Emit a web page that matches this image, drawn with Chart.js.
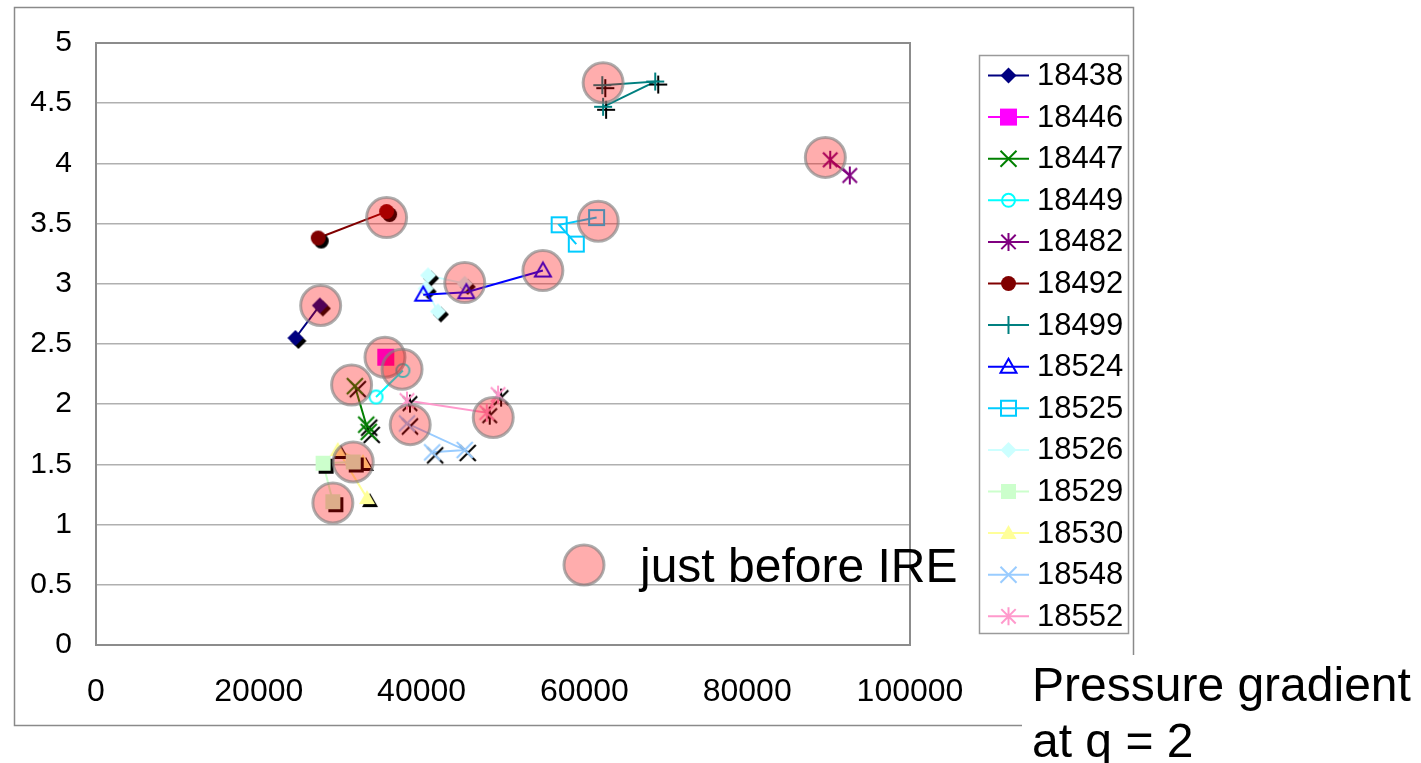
<!DOCTYPE html>
<html>
<head>
<meta charset="utf-8">
<script src="https://cdn.jsdelivr.net/npm/chart.js@4/dist/chart.umd.min.js"></script>
<style>
  html, body { margin: 0; padding: 0; background: #fff; overflow: hidden; }
  #wrap { position: relative; width: 1421px; height: 763px; }
</style>
</head>
<body>
<div id="wrap"><canvas id="c" width="1421" height="763"></canvas></div>
<script>
// Shot numbers (legend order)
const shots = ['18438', '18446', '18447', '18449', '18482', '18492', '18499',
               '18524', '18525', '18526', '18529', '18530', '18548', '18552'];

// [pressure gradient at q = 2, y value] for each shot
const shot18438 = [[24500, 2.55], [27500, 2.82]];
const shot18446 = [[35600, 2.39]];
const shot18447 = [[31800, 2.15], [33200, 1.83], [33500, 1.77]];
const shot18449 = [[37700, 2.28], [34400, 2.06]];
const shot18482 = [[90200, 4.03], [92600, 3.90]];
const shot18492 = [[27300, 3.38], [35700, 3.60]];
const shot18499 = [[62200, 4.65], [68700, 4.68], [62300, 4.47]];
const shot18524 = [[54900, 3.11], [45500, 2.93], [40200, 2.91]];
const shot18525 = [[61500, 3.55], [56900, 3.49], [59000, 3.33]];
const shot18526 = [[45300, 3.00], [40800, 3.07], [40500, 2.96], [42000, 2.77]];
const shot18529 = [[31600, 1.52], [27900, 1.51], [29100, 1.19]];
const shot18530 = [[32800, 1.52], [29700, 1.62], [33300, 1.22]];
const shot18548 = [[38200, 1.84], [45300, 1.62], [41300, 1.60]];
const shot18552 = [[38200, 2.03], [48000, 1.93], [49400, 2.08]];

// Points just before the IRE
const justBeforeIRE = [[27600, 2.82], [35700, 3.55], [35500, 2.39], [37600, 2.29],
                       [31400, 2.16], [38600, 1.83], [48800, 1.89], [31600, 1.52],
                       [29100, 1.18], [45300, 3.01], [54900, 3.11], [61700, 3.52],
                       [62300, 4.67], [89600, 4.05]];

// Axis ticks
const xTicks = [0, 20000, 40000, 60000, 80000, 100000];
const yTicks = [0, 0.5, 1, 1.5, 2, 2.5, 3, 3.5, 4, 4.5, 5];

const shotValues = [shot18438, shot18446, shot18447, shot18449, shot18482, shot18492, shot18499,
                    shot18524, shot18525, shot18526, shot18529, shot18530, shot18548, shot18552];

// Marker look per shot: colour, shape, filled, drop shadow
const looks = [
  { color: '#000080', shape: 'diamond',  filled: true,  shadow: true  },
  { color: '#FF00FF', shape: 'square',   filled: true,  shadow: false, size: 8.5 },
  { color: '#008000', shape: 'x',        filled: false, shadow: true  },
  { color: '#00FFFF', shape: 'circle',   filled: false, shadow: false, size: 6.5 },
  { color: '#800080', shape: 'star',     filled: false, shadow: false },
  { color: '#800000', shape: 'circle',   filled: true,  shadow: true  },
  { color: '#008080', shape: 'plus',     filled: false, shadow: true  },
  { color: '#0000FF', shape: 'triangle', filled: false, shadow: false },
  { color: '#00CCFF', shape: 'square',   filled: false, shadow: false },
  { color: '#CCFFFF', shape: 'diamond',  filled: true,  shadow: true  },
  { color: '#CCFFCC', shape: 'square',   filled: true,  shadow: true  },
  { color: '#FFFF99', shape: 'triangle', filled: true,  shadow: true  },
  { color: '#99CCFF', shape: 'x',        filled: false, shadow: true  },
  { color: '#FF99CC', shape: 'star',     filled: false, shadow: true  }
];

const FONT = "'Liberation Sans', Arial, sans-serif";
const IRE_FILL = 'rgba(255, 0, 0, 0.32)';
const IRE_EDGE = 'rgba(130, 130, 130, 0.65)';

function markerPath(ctx, shape, x, y, s) {
  ctx.beginPath();
  switch (shape) {
    case 'diamond':
      ctx.moveTo(x, y - s); ctx.lineTo(x + s, y); ctx.lineTo(x, y + s); ctx.lineTo(x - s, y);
      ctx.closePath(); break;
    case 'square':
      ctx.rect(x - s, y - s, 2 * s, 2 * s); break;
    case 'triangle':
      ctx.moveTo(x, y - s); ctx.lineTo(x + s, y + s * 0.75); ctx.lineTo(x - s, y + s * 0.75);
      ctx.closePath(); break;
    case 'circle':
      ctx.arc(x, y, s, 0, Math.PI * 2); break;
    case 'x':
      ctx.moveTo(x - s, y - s); ctx.lineTo(x + s, y + s);
      ctx.moveTo(x + s, y - s); ctx.lineTo(x - s, y + s); break;
    case 'plus':
      ctx.moveTo(x - s, y); ctx.lineTo(x + s, y);
      ctx.moveTo(x, y - s); ctx.lineTo(x, y + s); break;
    case 'star':
      ctx.moveTo(x - s * 0.8, y - s * 0.8); ctx.lineTo(x + s * 0.8, y + s * 0.8);
      ctx.moveTo(x + s * 0.8, y - s * 0.8); ctx.lineTo(x - s * 0.8, y + s * 0.8);
      ctx.moveTo(x, y - s); ctx.lineTo(x, y + s); break;
  }
}

function markerSize(look) {
  if (look.size) return look.size;
  switch (look.shape) {
    case 'square': return 7.5;
    case 'circle': return 7.5;
    case 'plus': return 9;
    case 'star': return 9;
    case 'x': return 8;
    default: return 8;
  }
}

function drawMarker(ctx, look, x, y, withShadow) {
  const s = markerSize(look);
  ctx.save();
  if (withShadow) {
    ctx.shadowColor = '#000';
    ctx.shadowOffsetX = 3;
    ctx.shadowOffsetY = 3;
    ctx.shadowBlur = 0;
  }
  ctx.lineWidth = 2;
  ctx.strokeStyle = look.color;
  ctx.fillStyle = look.color;
  markerPath(ctx, look.shape, x, y, s);
  if (look.filled) {
    ctx.fill();
  } else {
    ctx.stroke();
  }
  ctx.restore();
}

// Pre-rendered marker images used as point styles
function markerImage(look) {
  const s = markerSize(look);
  const size = Math.ceil(2 * (s + 7));
  const cv = document.createElement('canvas');
  cv.width = size; cv.height = size;
  const ctx = cv.getContext('2d');
  drawMarker(ctx, look, size / 2, size / 2, look.shadow);
  return cv;
}

const datasets = [];
datasets.push({
  label: 'just before IRE',
  data: justBeforeIRE.map(([x, y]) => ({ x, y })),
  showLine: false,
  pointStyle: 'circle',
  pointRadius: 20,
  pointHoverRadius: 20,
  pointBackgroundColor: IRE_FILL,
  pointBorderColor: IRE_EDGE,
  pointBorderWidth: 3,
  order: -1
});
shots.forEach((name, i) => {
  const look = looks[i];
  datasets.push({
    label: name,
    data: shotValues[i].map(([x, y]) => ({ x, y })),
    showLine: true,
    borderColor: look.color,
    borderWidth: 2,
    backgroundColor: look.color,
    pointStyle: markerImage(look),
    pointRadius: 8,
    order: 0
  });
});

const decor = {
  id: 'decor',
  beforeDraw(chart) {
    const ctx = chart.ctx;
    ctx.save();
    ctx.fillStyle = '#fff';
    ctx.fillRect(0, 0, chart.width, chart.height);
    ctx.strokeStyle = '#8a8a8a';
    ctx.lineWidth = 1.5;
    ctx.strokeRect(14.5, 7.5, 1119, 718);
    ctx.restore();
  },
  beforeDatasetsDraw(chart) {
    const ctx = chart.ctx;
    const a = chart.chartArea;
    ctx.save();
    ctx.strokeStyle = '#8c8c8c';
    ctx.lineWidth = 2;
    ctx.strokeRect(a.left, a.top, a.right - a.left, a.bottom - a.top);
    ctx.restore();
  },
  afterDraw(chart) {
    const ctx = chart.ctx;
    const a = chart.chartArea;
    ctx.save();

    // Series legend
    const lx = 979, ly = 55, lw = 149, lh = 578;
    ctx.fillStyle = '#fff';
    ctx.fillRect(lx, ly, lw, lh);
    ctx.strokeStyle = '#9a9a9a';
    ctx.lineWidth = 1.5;
    ctx.strokeRect(lx + 0.5, ly + 0.5, lw, lh);
    ctx.font = '31px ' + FONT;
    ctx.textBaseline = 'middle';
    shots.forEach((name, i) => {
      const y = 75.5 + i * 41.6;
      const look = looks[i];
      ctx.strokeStyle = look.color;
      ctx.lineWidth = 2;
      ctx.beginPath();
      ctx.moveTo(988, y); ctx.lineTo(1029, y);
      ctx.stroke();
      drawMarker(ctx, look, 1008.5, y, false);
      ctx.fillStyle = '#000';
      ctx.fillText(name, 1037, y + 1);
    });

    // Key for the IRE circles
    const kx = a.left + 488, ky = a.top + 522;
    ctx.beginPath();
    ctx.arc(kx, ky, 20, 0, Math.PI * 2);
    ctx.fillStyle = IRE_FILL;
    ctx.fill();
    ctx.strokeStyle = IRE_EDGE;
    ctx.lineWidth = 3;
    ctx.stroke();
    ctx.fillStyle = '#000';
    ctx.font = '48px ' + FONT;
    ctx.textBaseline = 'alphabetic';
    ctx.fillText('just before IRE', kx + 56, ky + 17);

    // Horizontal axis title
    ctx.fillStyle = '#fff';
    ctx.fillRect(1022, 655, 399, 108);
    ctx.fillStyle = '#000';
    ctx.fillText('Pressure gradient', 1032, 701);
    ctx.fillText('at q = 2', 1032, 757);
    ctx.restore();
  }
};

new Chart(document.getElementById('c'), {
  type: 'scatter',
  data: { datasets },
  options: {
    responsive: false,
    animation: false,
    devicePixelRatio: 1,
    layout: { padding: { top: 43, left: 0, right: 511, bottom: 0 } },
    plugins: {
      legend: { display: false },
      tooltip: { enabled: false }
    },
    scales: {
      x: {
        type: 'linear',
        min: 0, max: 100000,
        afterBuildTicks: s => { s.ticks = xTicks.map(v => ({ value: v })); },
        afterFit: s => { s.height = 118; },
        grid: { display: false, drawTicks: false },
        border: { display: false },
        ticks: {
          padding: 28,
          color: '#000',
          font: { family: FONT, size: 32 },
          maxRotation: 0,
          callback: v => String(v)
        }
      },
      y: {
        type: 'linear',
        min: 0, max: 5,
        afterBuildTicks: s => { s.ticks = yTicks.map(v => ({ value: v })); },
        afterFit: s => { s.width = 96; },
        grid: { color: '#b0b0b0', lineWidth: 1.5, drawTicks: false },
        border: { display: false },
        ticks: {
          padding: 24,
          color: '#000',
          font: { family: FONT, size: 30 },
          callback: v => String(v)
        }
      }
    }
  },
  plugins: [decor]
});
</script>
</body>
</html>
